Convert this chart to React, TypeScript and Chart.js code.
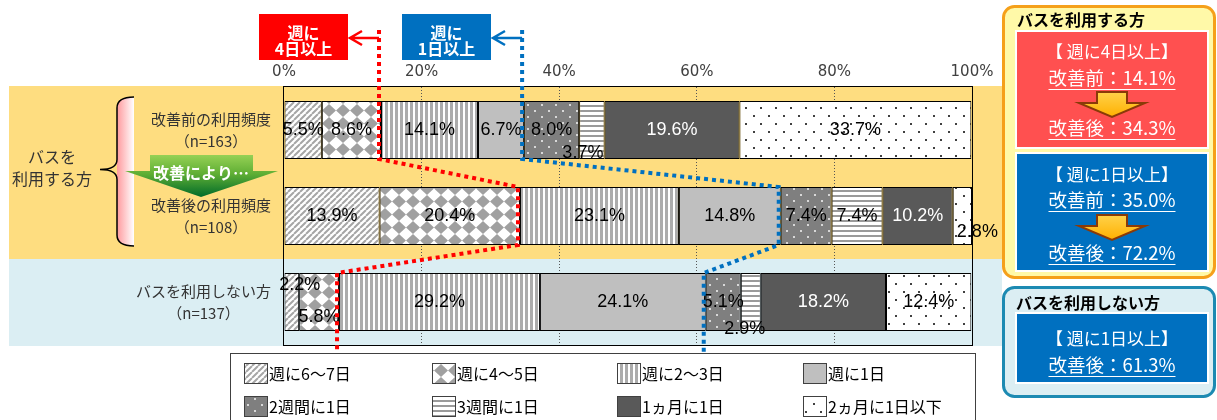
import React, { useEffect, useRef } from 'react';
import { Chart, registerables } from 'chart.js';

Chart.register(...registerables);

// ---------- data ----------
const categories: string[][] = [
  ['改善前の利用頻度', '（n=163）'],
  ['改善後の利用頻度', '（n=108）'],
  ['バスを利用しない方', '（n=137）'],
];
const seriesNames = ['週に6～7日', '週に4～5日', '週に2～3日', '週に1日', '2週間に1日', '3週間に1日', '1ヵ月に1日', '2ヵ月に1日以下'];
const days6to7 = [5.5, 13.9, 2.2];
const days4to5 = [8.6, 20.4, 5.8];
const days2to3 = [14.1, 23.1, 29.2];
const day1Week = [6.7, 14.8, 24.1];
const every2Weeks = [8.0, 7.4, 5.1];
const every3Weeks = [3.7, 7.4, 2.9];
const monthly = [19.6, 10.2, 18.2];
const bimonthlyOrLess = [33.7, 2.8, 12.4];
const xTickValues = [0, 20, 40, 60, 80, 100];

const userGroupLabel = ['バスを', '利用する方'];
const arrowCaption = '改善により…';
const calloutRed = ['週に', '4日以上'];
const calloutBlue = ['週に', '1日以上'];
const usersOver4Days = [14.1, 34.3];
const usersOver1Day = [35.0, 72.2];
const nonUsersOver1Day = [61.3];

// ---------- styles ----------
const JP = '"Noto Sans CJK JP", "Noto Sans", sans-serif';
const NUM = '"Liberation Sans", Arial, sans-serif';

function tile(w: number, h: number, draw: (g: CanvasRenderingContext2D) => void): CanvasPattern {
  const c = document.createElement('canvas');
  c.width = w;
  c.height = h;
  const g = c.getContext('2d')!;
  draw(g);
  return g.createPattern(c, 'repeat')!;
}

function makePatterns(): (CanvasPattern | string)[] {
  const p67 = tile(6, 6, (g) => {
    g.fillStyle = '#fff';
    g.fillRect(0, 0, 6, 6);
    g.strokeStyle = '#a6a6a6';
    g.lineWidth = 2;
    g.beginPath();
    for (const o of [-6, 0, 6]) {
      g.moveTo(o, 6);
      g.lineTo(o + 6, 0);
    }
    g.stroke();
  });
  const p45 = tile(14, 13, (g) => {
    g.fillStyle = '#fff';
    g.fillRect(0, 0, 14, 13);
    g.fillStyle = '#a0a0a0';
    g.beginPath();
    g.moveTo(7, 0);
    g.lineTo(14, 6.5);
    g.lineTo(7, 13);
    g.lineTo(0, 6.5);
    g.closePath();
    g.fill();
  });
  const p23 = tile(5, 1, (g) => {
    g.fillStyle = '#fff';
    g.fillRect(0, 0, 5, 1);
    g.fillStyle = '#acacac';
    g.fillRect(0, 0, 3, 1);
  });
  const p2w = tile(14, 12, (g) => {
    g.fillStyle = '#7f7f7f';
    g.fillRect(0, 0, 14, 12);
    g.fillStyle = '#d8d8d8';
    g.fillRect(2, 2, 2, 2);
    g.fillRect(9, 8, 2, 2);
  });
  const p3w = tile(1, 5, (g) => {
    g.fillStyle = '#fff';
    g.fillRect(0, 0, 1, 5);
    g.fillStyle = '#9a9a9a';
    g.fillRect(0, 0, 1, 2);
  });
  const p2m = tile(15, 16, (g) => {
    g.fillStyle = '#fff';
    g.fillRect(0, 0, 15, 16);
    g.fillStyle = '#404040';
    g.fillRect(3, 3, 2, 2);
    g.fillRect(10, 11, 2, 2);
  });
  return [p67, p45, p23, '#bfbfbf', p2w, p3w, '#595959', p2m];
}

const labelColors = ['#000', '#000', '#000', '#000', '#000', '#000', '#fff', '#000'];
const labelNudge: Record<string, [number, number]> = {
  '5-0': [-9, 23],
  '7-1': [15, 16],
  '0-2': [8, -17],
  '1-2': [0, 15],
  '5-2': [-6, 27],
};

function downArrow(ctx: CanvasRenderingContext2D, cx: number, top: number, bottom: number) {
  const bodyH = (bottom - top) * 0.44;
  ctx.save();
  ctx.beginPath();
  ctx.moveTo(cx - 15, top);
  ctx.lineTo(cx + 15, top);
  ctx.lineTo(cx + 15, top + bodyH);
  ctx.lineTo(cx + 33, top + bodyH);
  ctx.lineTo(cx, bottom);
  ctx.lineTo(cx - 33, top + bodyH);
  ctx.lineTo(cx - 15, top + bodyH);
  ctx.closePath();
  const gr = ctx.createLinearGradient(0, top, 0, bottom);
  gr.addColorStop(0, '#ffd24a');
  gr.addColorStop(1, '#ffb000');
  ctx.fillStyle = gr;
  ctx.fill();
  ctx.strokeStyle = '#8a3a08';
  ctx.lineWidth = 2;
  ctx.stroke();
  ctx.restore();
}

function textU(ctx: CanvasRenderingContext2D, s: string, x: number, y: number) {
  ctx.fillText(s, x, y);
  const w = ctx.measureText(s).width;
  ctx.fillRect(x - w / 2, y + 11, w, 1);
}

function leftArrow(ctx: CanvasRenderingContext2D, xFrom: number, xTo: number, y: number, color: string) {
  ctx.save();
  ctx.strokeStyle = color;
  ctx.lineWidth = 2.5;
  ctx.setLineDash([]);
  ctx.beginPath();
  ctx.moveTo(xFrom, y);
  ctx.lineTo(xTo, y);
  ctx.moveTo(xTo + 12, y - 7);
  ctx.lineTo(xTo, y);
  ctx.lineTo(xTo + 12, y + 7);
  ctx.stroke();
  ctx.restore();
}

const decor = {
  id: 'decor',
  beforeDraw(chart: any) {
    const ctx: CanvasRenderingContext2D = chart.ctx;
    const ys = chart.scales.y;
    const area = chart.chartArea;
    ctx.save();
    ctx.fillStyle = '#fff';
    ctx.fillRect(0, 0, chart.width, chart.height);
    const split = Math.round((ys.getPixelForValue(1) + ys.getPixelForValue(2)) / 2);
    ctx.fillStyle = '#fedd80';
    ctx.fillRect(9, area.top - 1, 993, split - area.top + 1);
    ctx.fillStyle = '#dbeef3';
    ctx.fillRect(9, split, 993, area.bottom + 1 - split);
    ctx.restore();
  },
  afterDraw(chart: any) {
    const ctx: CanvasRenderingContext2D = chart.ctx;
    const xs = chart.scales.x;
    const ys = chart.scales.y;
    const area = chart.chartArea;
    ctx.save();

    // plot frame
    ctx.strokeStyle = '#000';
    ctx.lineWidth = 1;
    ctx.strokeRect(Math.round(area.left) - 0.5, Math.round(area.top) - 0.5, Math.round(area.right - area.left) + 1, Math.round(area.bottom - area.top) + 1);

    // bar value labels
    ctx.textAlign = 'center';
    ctx.textBaseline = 'middle';
    ctx.font = `18px ${NUM}`;
    chart.data.datasets.forEach((ds: any, di: number) => {
      const meta = chart.getDatasetMeta(di);
      meta.data.forEach((el: any, i: number) => {
        const p = el.getProps(['x', 'y', 'base'], true);
        const n = labelNudge[`${di}-${i}`] || [0, 0];
        ctx.fillStyle = labelColors[di];
        ctx.fillText(`${Number(ds.data[i]).toFixed(1)}%`, (p.x + p.base) / 2 + n[0], p.y + n[1]);
      });
    });

    // dotted guide lines
    const meta0 = chart.getDatasetMeta(0);
    const bars = meta0.data.map((el: any) => {
      const p = el.getProps(['y', 'height'], true);
      return { top: p.y - p.height / 2, bottom: p.y + p.height / 2 };
    });
    const cum = (k: number) => categories.map((_, i) => chart.data.datasets.slice(0, k).reduce((s: number, d: any) => s + d.data[i], 0));
    const drawGuide = (vals: number[], color: string) => {
      const px = vals.map((v) => xs.getPixelForValue(v) - 2);
      ctx.save();
      ctx.strokeStyle = color;
      ctx.lineWidth = 4;
      ctx.setLineDash([4, 4]);
      ctx.beginPath();
      ctx.moveTo(px[0], 30);
      ctx.lineTo(px[0], bars[0].bottom);
      ctx.lineTo(px[1], bars[1].top);
      ctx.lineTo(px[1], bars[1].bottom);
      ctx.lineTo(px[2], bars[2].top);
      ctx.lineTo(px[2], 352);
      ctx.stroke();
      ctx.restore();
      return px;
    };
    const redX = drawGuide(cum(2), '#ff0000');
    const blueX = drawGuide(cum(4), '#0070c0');

    // callout boxes at top
    const callout = (x: number, lines: string[], color: string) => {
      ctx.fillStyle = color;
      ctx.fillRect(x, 14, 89, 46);
      ctx.fillStyle = '#fff';
      ctx.font = `bold 16px ${JP}`;
      ctx.textAlign = 'center';
      ctx.fillText(lines[0], x + 44.5, 33);
      ctx.fillText(lines[1], x + 44.5, 49);
    };
    callout(259, calloutRed, '#ff0000');
    callout(402, calloutBlue, '#0070c0');
    leftArrow(ctx, redX[0], 350, 38, '#ff0000');
    leftArrow(ctx, blueX[0], 493, 38, '#0070c0');

    // category labels (right-aligned block, lines centred)
    ctx.fillStyle = '#333';
    ctx.font = `15px ${JP}`;
    categories.forEach((lines, i) => {
      const cy = ys.getPixelForValue(i);
      const w = Math.max(...lines.map((l) => ctx.measureText(l).width));
      const cx = 271 - w / 2;
      ctx.fillText(lines[0], cx, cy - 11);
      ctx.fillText(lines[1], cx, cy + 11);
    });

    // group label
    ctx.font = `16px ${JP}`;
    ctx.fillText(userGroupLabel[0], 52, 157);
    ctx.fillText(userGroupLabel[1], 52, 179);

    // brace
    const bTop = bars[0].top - 4;
    const bBot = bars[1].bottom + 1;
    const bMid = (bTop + bBot) / 2 - 2;
    ctx.beginPath();
    ctx.moveTo(134, bTop);
    ctx.quadraticCurveTo(117, bTop, 117, bTop + 11);
    ctx.lineTo(117, bMid - 10);
    ctx.quadraticCurveTo(117, bMid, 100, bMid);
    ctx.quadraticCurveTo(117, bMid, 117, bMid + 10);
    ctx.lineTo(117, bBot - 11);
    ctx.quadraticCurveTo(117, bBot, 134, bBot);
    const pinkPath = new Path2D();
    pinkPath.moveTo(134, bTop);
    pinkPath.quadraticCurveTo(117, bTop, 117, bTop + 11);
    pinkPath.lineTo(117, bBot - 11);
    pinkPath.quadraticCurveTo(117, bBot, 134, bBot);
    pinkPath.closePath();
    const pg = ctx.createLinearGradient(117, 0, 134, 0);
    pg.addColorStop(0, '#ff9a9e');
    pg.addColorStop(1, '#ffffff');
    ctx.save();
    ctx.fillStyle = pg;
    ctx.fill(pinkPath);
    ctx.restore();
    ctx.strokeStyle = '#000';
    ctx.lineWidth = 1.5;
    ctx.stroke();

    // green arrow
    ctx.beginPath();
    ctx.moveTo(150, 155);
    ctx.lineTo(253, 155);
    ctx.lineTo(253, 171);
    ctx.lineTo(278, 171);
    ctx.lineTo(201, 197);
    ctx.lineTo(125, 171);
    ctx.lineTo(150, 171);
    ctx.closePath();
    const gg = ctx.createLinearGradient(0, 155, 0, 197);
    gg.addColorStop(0, '#96d155');
    gg.addColorStop(0.45, '#5fae34');
    gg.addColorStop(1, '#006b2a');
    ctx.fillStyle = gg;
    ctx.fill();
    ctx.fillStyle = '#fff';
    ctx.font = `bold 16px ${JP}`;
    ctx.fillText(arrowCaption, 201, 173);

    // right panel 1
    ctx.beginPath();
    ctx.roundRect(1003.5, 6.5, 211, 271, 11);
    ctx.fillStyle = '#fff9a8';
    ctx.fill();
    ctx.strokeStyle = '#f5a01a';
    ctx.lineWidth = 3;
    ctx.stroke();
    ctx.fillStyle = '#000';
    ctx.textAlign = 'left';
    ctx.font = `bold 16px ${JP}`;
    ctx.fillText('バスを利用する方', 1017, 20);

    const box = (y: number, h: number, color: string) => {
      ctx.fillStyle = color;
      ctx.fillRect(1016, y, 192, h);
      ctx.strokeStyle = '#fff';
      ctx.lineWidth = 2;
      ctx.strokeRect(1016, y, 192, h);
    };
    box(31, 117, '#ff5050');
    box(153, 118, '#0070c0');
    ctx.textAlign = 'center';
    ctx.fillStyle = '#fff';
    ctx.font = `17px ${JP}`;
    ctx.fillText('【 週に4日以上】', 1112, 52);
    ctx.fillText('【 週に1日以上】', 1112, 175);
    ctx.font = `18.5px ${JP}`;
    textU(ctx, `改善前：${usersOver4Days[0].toFixed(1)}%`, 1112, 78);
    textU(ctx, `改善後：${usersOver4Days[1].toFixed(1)}%`, 1112, 128);
    textU(ctx, `改善前：${usersOver1Day[0].toFixed(1)}%`, 1112, 200);
    textU(ctx, `改善後：${usersOver1Day[1].toFixed(1)}%`, 1112, 253);
    downArrow(ctx, 1112, 92, 117);
    downArrow(ctx, 1112, 215, 240);

    // right panel 2
    ctx.beginPath();
    ctx.roundRect(1003.5, 287.5, 211, 109, 11);
    ctx.fillStyle = '#dbeef3';
    ctx.fill();
    ctx.strokeStyle = '#1c8ab2';
    ctx.lineWidth = 3;
    ctx.stroke();
    ctx.fillStyle = '#000';
    ctx.textAlign = 'left';
    ctx.font = `bold 16px ${JP}`;
    ctx.fillText('バスを利用しない方', 1016, 303);
    box(313, 70, '#0070c0');
    ctx.textAlign = 'center';
    ctx.fillStyle = '#fff';
    ctx.font = `17px ${JP}`;
    ctx.fillText('【 週に1日以上】', 1112, 339);
    ctx.font = `18.5px ${JP}`;
    textU(ctx, `改善後：${nonUsersOver1Day[0].toFixed(1)}%`, 1112, 365);

    // legend
    ctx.strokeStyle = '#404040';
    ctx.lineWidth = 1;
    ctx.strokeRect(230.5, 353.5, 745, 70);
    const cols = [244, 432, 617, 803];
    const rows = [363, 396];
    ctx.textAlign = 'left';
    ctx.font = `16px ${JP}`;
    chart.data.datasets.forEach((ds: any, i: number) => {
      const sx = cols[i % 4];
      const sy = rows[Math.floor(i / 4)];
      ctx.fillStyle = ds.backgroundColor;
      ctx.fillRect(sx, sy, 24, 21);
      ctx.strokeStyle = '#404040';
      ctx.strokeRect(sx + 0.5, sy + 0.5, 23, 20);
      ctx.fillStyle = '#000';
      ctx.fillText(ds.label, sx + 25, sy + 11);
    });

    ctx.restore();
  },
};

export default function App() {
  const ref = useRef<HTMLCanvasElement>(null);
  useEffect(() => {
    const canvas = ref.current!;
    const patterns = makePatterns();
    const seriesValues = [days6to7, days4to5, days2to3, day1Week, every2Weeks, every3Weeks, monthly, bimonthlyOrLess];
    const chart = new Chart(canvas, {
      type: 'bar',
      data: {
        labels: categories,
        datasets: seriesNames.map((name, i) => ({
          label: name,
          data: seriesValues[i],
          backgroundColor: patterns[i] as any,
          borderColor: '#000',
          borderWidth: 1,
          borderSkipped: false,
          barPercentage: 58 / 86,
          categoryPercentage: 1,
        })),
      },
      options: {
        indexAxis: 'y',
        responsive: false,
        animation: false,
        events: [],
        layout: { padding: { left: 284, right: 245, top: 63, bottom: 75 } },
        plugins: { legend: { display: false }, tooltip: { enabled: false } },
        scales: {
          x: {
            type: 'linear',
            position: 'top',
            stacked: true,
            min: 0,
            max: 100,
            afterBuildTicks: (s: any) => {
              s.ticks = xTickValues.map((v) => ({ value: v }));
            },
            afterFit: (s: any) => {
              s.height = 24;
            },
            ticks: {
              callback: (v: any) => `${v}%`,
              color: '#404040',
              font: { family: 'DejaVu Sans', size: 15 },
              padding: 6,
            },
            grid: {
              drawTicks: false,
              color: (c: any) => (c.tick && (c.tick.value === 0 || c.tick.value === 100) ? 'rgba(0,0,0,0)' : '#555'),
              lineWidth: 1,
            },
            border: { display: false, dash: [1, 2] },
          },
          y: {
            type: 'category',
            stacked: true,
            display: false,
          },
        },
      } as any,
      plugins: [decor],
    });
    return () => chart.destroy();
  }, []);
  return (
    <div style={{ position: 'absolute', left: 0, top: 0, width: 1217, height: 420 }}>
      <canvas ref={ref} width={1217} height={420} style={{ display: 'block' }} />
    </div>
  );
}
